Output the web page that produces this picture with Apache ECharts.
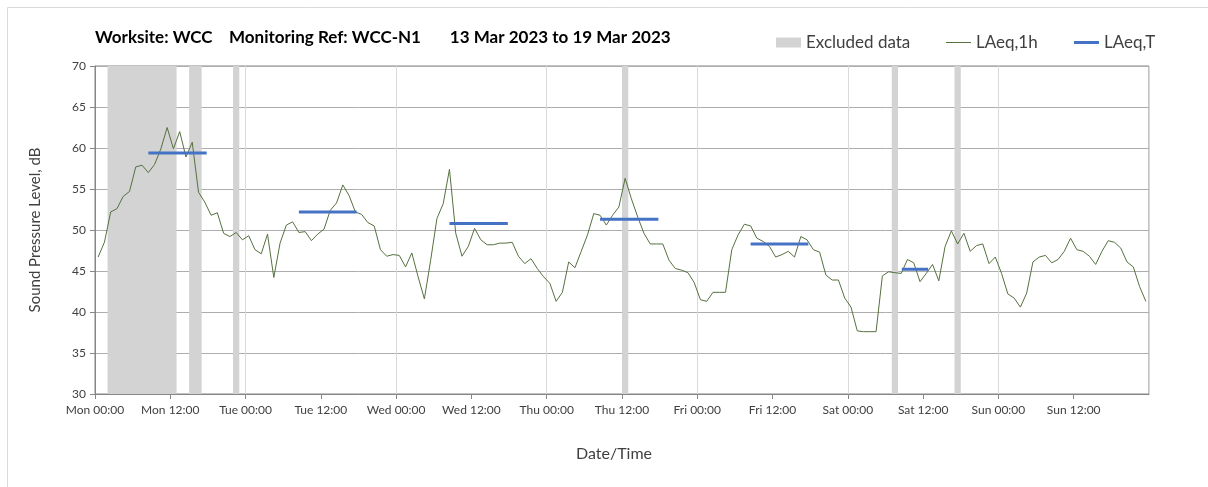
<!DOCTYPE html>
<html>
<head>
<meta charset="utf-8">
<script src="https://cdn.jsdelivr.net/npm/echarts@6/dist/echarts.min.js"></script>
<style>
  html, body { margin: 0; padding: 0; background: #ffffff; }
  #chart { width: 1208px; height: 487px; }
</style>
</head>
<body>
<div id="chart"></div>
<script>
// Hourly LAeq,1h levels (dB), one array per day, hours 00:00 .. 23:00
const monLevels = [46.7, 48.5, 52.2, 52.6, 54.1, 54.7, 57.7, 57.9, 57.0, 58.0, 59.9, 62.5,
                   59.9, 62.0, 58.9, 60.7, 54.6, 53.4, 51.8, 52.1, 49.6, 49.2, 49.7, 48.8];
const tueLevels = [49.3, 47.6, 47.1, 49.5, 44.2, 48.4, 50.6, 51.0, 49.7, 49.8, 48.7, 49.5,
                   50.1, 52.4, 53.3, 55.5, 54.2, 52.2, 51.9, 50.9, 50.5, 47.6, 46.8, 47.0];
const wedLevels = [46.9, 45.5, 47.2, 44.3, 41.6, 46.3, 51.4, 53.2, 57.4, 49.6, 46.8, 48.0,
                   50.2, 48.8, 48.2, 48.2, 48.4, 48.4, 48.5, 46.8, 45.9, 46.5, 45.3, 44.3];
const thuLevels = [43.5, 41.3, 42.4, 46.1, 45.4, 47.4, 49.4, 52.0, 51.8, 50.6, 51.8, 52.8,
                   56.3, 53.8, 51.6, 49.6, 48.3, 48.3, 48.3, 46.3, 45.3, 45.1, 44.8, 43.6];
const friLevels = [41.5, 41.3, 42.4, 42.4, 42.4, 47.6, 49.4, 50.7, 50.5, 49.0, 48.6, 48.0,
                   46.7, 47.0, 47.4, 46.7, 49.2, 48.8, 47.6, 47.3, 44.5, 43.9, 43.9, 41.7];
const satLevels = [40.6, 37.7, 37.6, 37.6, 37.6, 44.4, 44.9, 44.8, 44.7, 46.4, 46.0, 43.7,
                   44.7, 45.8, 43.8, 48.0, 49.9, 48.3, 49.6, 47.4, 48.1, 48.3, 45.9, 46.7];
const sunLevels = [44.7, 42.2, 41.7, 40.6, 42.3, 46.1, 46.7, 46.9, 46.0, 46.4, 47.4, 49.0,
                   47.6, 47.4, 46.8, 45.8, 47.4, 48.7, 48.5, 47.8, 46.1, 45.5, 43.1, 41.3];

// Excluded data periods (hours from Mon 00:00)
const excludedStart = [2, 15, 22, 84, 127, 137];
const excludedEnd   = [13, 17, 23, 85, 128, 138];

// LAeq,T period levels (hours from Mon 00:00)
const periodStart = [8.5, 32.5, 56.5, 80.5, 104.5, 128.6];
const periodEnd   = [17.8, 41.7, 65.8, 89.8, 113.7, 132.8];
const periodLevel = [59.4, 52.2, 50.8, 51.3, 48.3, 45.2];

// Axis tick labels
const dayNames = ['Mon', 'Tue', 'Wed', 'Thu', 'Fri', 'Sat', 'Sun'];
const tickTimes = ['00:00', '12:00'];

const Y_MIN = 30, Y_MAX = 70, HOURS = 168;
const FONT = 'Lato, "Open Sans", sans-serif';
const AXIS_GREY = '#868686';
const TEXT = '#404040';
const LINE_GREEN = '#56703f';
const BLUE = '#4472c4';

const hourlyLevels = [].concat(monLevels, tueLevels, wedLevels, thuLevels, friLevels, satLevels, sunLevels);
// each hourly value is placed at the middle of its hour
const hourlyData = hourlyLevels.map((v, i) => [i + 0.5, v]);
const excludedData = excludedStart.map((s, i) => [s, excludedEnd[i]]);

const chart = echarts.init(document.getElementById('chart'), null, { renderer: 'canvas' });

const periodSeries = periodStart.map((s, i) => ({
  name: 'LAeq,T',
  type: 'line',
  data: [[s, periodLevel[i]], [periodEnd[i], periodLevel[i]]],
  symbol: 'none',
  lineStyle: { width: 3, color: BLUE },
  itemStyle: { color: BLUE },
  z: 5,
  silent: true
}));

const legendText = { fontFamily: FONT, fontSize: 17, color: TEXT };
const legendBase = { top: 29, itemWidth: 25, itemHeight: 10, itemGap: 0, selectedMode: false, textStyle: legendText };

chart.setOption({
  animation: false,
  textStyle: { fontFamily: FONT },
  title: {
    text: 'Worksite: WCC    Monitoring Ref: WCC-N1       13 Mar 2023 to 19 Mar 2023',
    left: 90,
    top: 24,
    textStyle: { fontFamily: FONT, fontSize: 17, fontWeight: 'bold', color: '#000000' }
  },
  legend: [
    Object.assign({ left: 771, data: [{ name: 'Excluded data', icon: 'rect' }] }, legendBase),
    Object.assign({ left: 941, data: [{ name: 'LAeq,1h', icon: 'path://M0,0H25V1H0Z' }] }, legendBase),
    Object.assign({ left: 1069, data: [{ name: 'LAeq,T', icon: 'path://M0,0H25V3H0Z' }] }, legendBase)
  ],
  graphic: [{
    type: 'rect',
    left: 5, top: 5,
    shape: { width: 1300, height: 600 },
    style: { fill: 'none', stroke: '#d9d9d9', lineWidth: 1 },
    silent: true
  }],
  grid: {
    left: 95, right: 59, top: 66, bottom: 93,
    show: true, borderColor: AXIS_GREY, borderWidth: 1, backgroundColor: 'transparent'
  },
  xAxis: [{
    type: 'value',
    min: 0, max: HOURS, interval: 12,
    axisLine: { show: true, lineStyle: { color: AXIS_GREY } },
    axisTick: { show: true, length: 5, lineStyle: { color: AXIS_GREY } },
    splitLine: { show: false },
    axisLabel: {
      fontFamily: FONT, fontSize: 12, color: TEXT, margin: 10,
      showMaxLabel: false,
      formatter: v => v >= HOURS ? '' : dayNames[Math.floor(v / 24)] + ' ' + tickTimes[(v % 24) / 12]
    },
    name: 'Date/Time',
    nameLocation: 'middle',
    nameGap: 52,
    nameTextStyle: { fontFamily: FONT, fontSize: 16, color: TEXT, padding: [0, 16, 0, 0] }
  }, {
    // daily gridlines only
    type: 'value',
    position: 'top',
    min: 0, max: HOURS, interval: 24,
    axisLine: { show: false },
    axisTick: { show: false },
    axisLabel: { show: false },
    splitLine: { show: true, lineStyle: { color: '#d9d9d9', width: 1 } }
  }],
  yAxis: {
    type: 'value',
    min: Y_MIN, max: Y_MAX, interval: 5,
    axisLine: { show: true, lineStyle: { color: AXIS_GREY } },
    axisTick: { show: true, length: 5, lineStyle: { color: AXIS_GREY } },
    splitLine: { show: true, lineStyle: { color: '#adadad' } },
    axisLabel: { fontFamily: FONT, fontSize: 12, color: TEXT, margin: 9 },
    name: 'Sound Pressure Level, dB',
    nameLocation: 'middle',
    nameGap: 52,
    nameTextStyle: { fontFamily: FONT, fontSize: 15, color: TEXT }
  },
  series: [{
    name: 'Excluded data',
    type: 'custom',
    xAxisIndex: 0,
    data: excludedData,
    encode: { x: [0, 1] },
    itemStyle: { color: '#d3d3d3' },
    z: 1,
    silent: true,
    renderItem: (params, api) => {
      const p0 = api.coord([api.value(0), Y_MAX]);
      const p1 = api.coord([api.value(1), Y_MIN]);
      return {
        type: 'rect',
        shape: { x: p0[0], y: p0[1], width: p1[0] - p0[0], height: p1[1] - p0[1] },
        style: { fill: '#d3d3d3' }
      };
    }
  }, {
    name: 'LAeq,1h',
    type: 'line',
    xAxisIndex: 0,
    data: hourlyData,
    symbol: 'none',
    lineStyle: { width: 1, color: LINE_GREEN },
    itemStyle: { color: LINE_GREEN },
    z: 4,
    silent: true
  }].concat(periodSeries)
});
</script>
</body>
</html>
